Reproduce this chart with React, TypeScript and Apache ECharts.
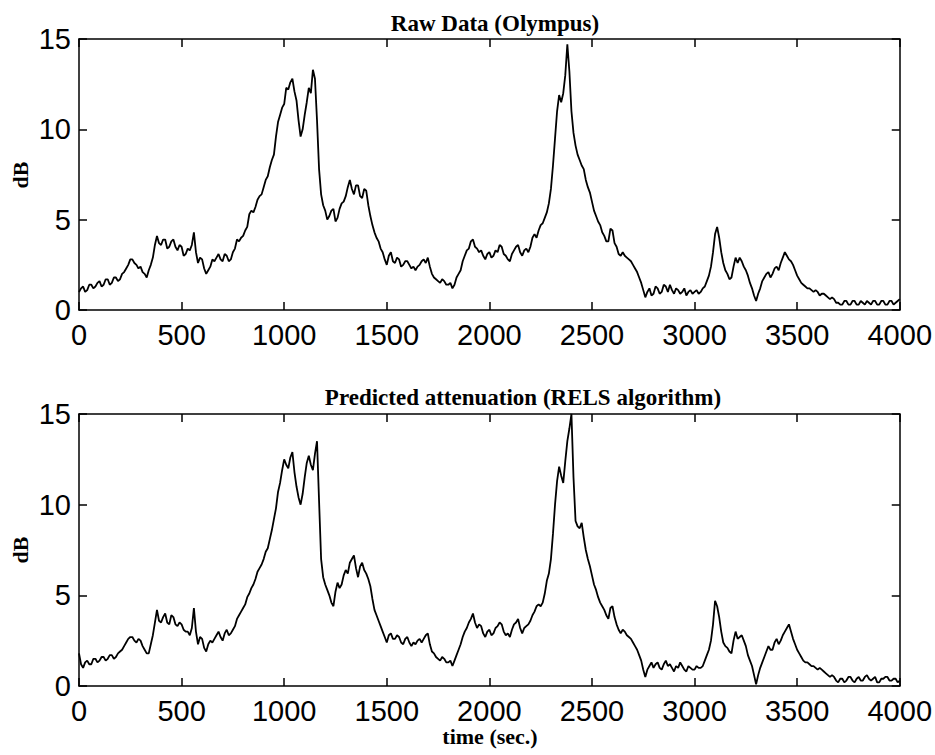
import React, { useEffect, useRef } from "react";
import * as echarts from "echarts";

const STEP_SEC = 10;
const X_TICKS = [0, 500, 1000, 1500, 2000, 2500, 3000, 3500, 4000];
const Y_TICKS = [0, 5, 10, 15];
const TITLE_TOP = "Raw Data (Olympus)";
const TITLE_BOTTOM = "Predicted attenuation (RELS algorithm)";
const Y_NAME = "dB";
const X_NAME = "time (sec.)";

// Raw data, one value every 10 s from 0 to 4000 s (each row = 200 s)
const RAW_DB = [
  1.0, 1.2, 1.3, 1.0, 1.1, 1.4, 1.4, 1.2, 1.3, 1.5, 1.6, 1.3, 1.4, 1.7, 1.7, 1.4, 1.5, 1.8, 1.8, 1.6,
  1.7, 2.0, 2.1, 2.3, 2.5, 2.8, 2.8, 2.6, 2.5, 2.3, 2.4, 2.1, 2.0, 1.8, 2.2, 2.5, 2.9, 3.6, 4.1, 3.7,
  3.6, 3.9, 3.9, 3.4, 3.5, 3.8, 3.9, 3.5, 3.3, 3.6, 3.5, 3.0, 3.1, 3.4, 3.3, 3.6, 4.3, 3.2, 2.6, 2.9,
  2.8, 2.3, 2.0, 2.2, 2.4, 2.8, 2.7, 2.9, 3.1, 2.8, 2.7, 3.1, 3.0, 2.7, 2.8, 3.2, 3.4, 3.9, 3.8, 4.0,
  4.1, 4.4, 4.6, 5.3, 5.5, 5.4, 5.7, 6.1, 6.3, 6.4, 6.8, 7.2, 7.4, 7.9, 8.3, 8.6, 9.6, 10.4, 10.8, 11.2,
  11.4, 12.3, 12.2, 12.6, 12.8, 12.1, 11.6, 10.5, 9.6, 10.0, 10.8, 11.5, 12.3, 12.0, 13.3, 12.8, 10.5, 7.8, 6.4, 5.8,
  5.5, 5.0, 5.2, 5.5, 5.6, 4.9, 5.1, 5.6, 5.9, 6.0, 6.3, 6.8, 7.2, 6.7, 6.4, 6.9, 6.9, 6.3, 6.2, 6.7,
  6.6, 5.8, 5.2, 4.7, 4.3, 4.0, 3.8, 3.4, 3.2, 2.8, 2.5, 3.0, 3.2, 2.7, 2.6, 2.9, 2.8, 2.4, 2.5, 2.7,
  2.7, 2.5, 2.3, 2.4, 2.2, 2.4, 2.5, 2.7, 2.8, 2.6, 2.9, 2.4, 2.0, 1.8, 1.7, 1.6, 1.5, 1.7, 1.6, 1.4,
  1.4, 1.5, 1.2, 1.4, 1.8, 2.0, 2.2, 2.7, 3.0, 3.3, 3.4, 3.8, 3.9, 3.5, 3.4, 3.2, 3.3, 3.0, 2.8, 3.1,
  3.2, 2.9, 3.0, 3.3, 3.2, 3.6, 3.5, 3.1, 3.0, 2.8, 2.7, 3.1, 3.3, 3.5, 3.6, 3.2, 3.0, 3.3, 3.4, 3.2,
  3.5, 4.0, 4.2, 4.0, 4.4, 4.7, 4.8, 5.1, 5.4, 5.9, 6.7, 8.0, 9.5, 11.0, 11.9, 11.5, 12.0, 13.0, 14.7, 13.2,
  11.0, 9.8, 9.1, 8.6, 8.3, 8.0, 7.8, 7.2, 6.8, 6.5, 6.0, 5.5, 5.2, 4.9, 4.7, 4.3, 4.1, 3.8, 3.8, 4.5,
  4.4, 3.7, 3.5, 3.1, 3.0, 3.2, 3.0, 2.9, 2.8, 2.7, 2.5, 2.3, 2.1, 1.8, 1.5, 1.1, 0.7, 1.0, 1.2, 0.8,
  0.9, 1.3, 1.2, 0.9, 1.0, 1.4, 1.3, 1.0, 1.4, 1.1, 0.9, 1.2, 1.1, 0.9, 1.0, 1.2, 0.8, 1.0, 1.1, 0.9,
  1.0, 1.1, 0.9, 1.0, 1.2, 1.3, 1.6, 1.9, 2.4, 3.2, 4.2, 4.6, 4.0, 3.2, 2.6, 2.2, 2.0, 1.7, 1.8, 2.4,
  2.9, 2.6, 2.9, 2.7, 2.4, 2.2, 1.9, 1.5, 1.2, 0.8, 0.5, 0.9, 1.2, 1.6, 1.8, 2.0, 2.1, 1.8, 2.0, 2.3,
  2.4, 2.2, 2.6, 2.9, 3.2, 3.0, 2.8, 2.7, 2.5, 2.2, 1.9, 1.7, 1.5, 1.4, 1.3, 1.2, 1.2, 1.1, 1.0, 1.1,
  1.0, 0.8, 0.9, 0.9, 0.8, 0.7, 0.6, 0.7, 0.6, 0.4, 0.4, 0.3, 0.3, 0.5, 0.5, 0.3, 0.3, 0.5, 0.5, 0.3,
  0.3, 0.5, 0.4, 0.3, 0.5, 0.4, 0.3, 0.5, 0.5, 0.3, 0.3, 0.5, 0.5, 0.3, 0.3, 0.5, 0.5, 0.3, 0.4, 0.5,
  0.6,
];

// Predicted attenuation (RELS), one value every 10 s from 0 to 4000 s (each row = 200 s)
const PRED_DB = [
  1.8, 1.2, 1.0, 1.3, 1.4, 1.2, 1.2, 1.5, 1.5, 1.3, 1.4, 1.6, 1.6, 1.4, 1.5, 1.7, 1.7, 1.5, 1.6, 1.8,
  1.9, 2.0, 2.2, 2.4, 2.6, 2.7, 2.7, 2.5, 2.4, 2.6, 2.5, 2.2, 2.0, 1.8, 1.8, 2.3, 2.8, 3.5, 4.2, 3.6,
  3.5, 3.8, 4.0, 3.5, 3.4, 3.9, 3.8, 3.4, 3.3, 3.5, 3.4, 3.1, 3.0, 3.0, 2.8, 3.2, 4.3, 3.0, 2.3, 2.7,
  2.6, 2.1, 1.9, 2.3, 2.5, 2.4, 2.6, 2.8, 3.0, 2.7, 2.5, 2.9, 3.1, 2.8, 2.9, 3.1, 3.3, 3.7, 3.9, 4.1,
  4.3, 4.5, 4.9, 5.1, 5.4, 5.6, 5.9, 6.3, 6.5, 6.7, 7.0, 7.4, 7.6, 8.1, 8.6, 9.2, 9.8, 10.7, 11.2, 11.9,
  12.5, 12.2, 12.0, 12.6, 12.9, 11.8, 11.0, 10.4, 10.0, 10.6, 11.5, 12.3, 12.7, 12.2, 11.9, 12.8, 13.5, 10.2, 7.0, 6.0,
  5.6, 5.3, 5.0, 4.6, 4.4, 5.2, 5.7, 5.4, 5.6, 6.1, 6.4, 6.2, 6.8, 7.0, 7.2, 6.5, 6.0, 6.6, 6.8, 6.4,
  6.2, 5.9, 5.5, 4.8, 4.2, 3.9, 3.6, 3.3, 3.0, 2.7, 2.4, 2.8, 2.9, 2.6, 2.6, 2.8, 2.7, 2.4, 2.3, 2.6,
  2.7, 2.4, 2.2, 2.4, 2.3, 2.5, 2.6, 2.4, 2.6, 2.8, 2.9, 2.3, 1.9, 1.8, 1.6, 1.5, 1.4, 1.6, 1.5, 1.3,
  1.3, 1.4, 1.1, 1.4, 1.7, 2.0, 2.3, 2.7, 3.0, 3.2, 3.5, 3.7, 4.0, 3.5, 3.2, 3.4, 3.3, 2.9, 2.7, 3.0,
  3.1, 2.8, 2.9, 3.2, 3.3, 3.5, 3.4, 3.0, 2.8, 2.9, 2.7, 3.1, 3.4, 3.5, 3.7, 3.2, 2.9, 3.2, 3.3, 3.4,
  3.6, 3.9, 4.1, 4.4, 4.5, 4.4, 4.6, 5.1, 5.8, 6.2, 7.0, 8.4, 10.0, 11.3, 12.1, 11.6, 11.2, 12.4, 13.5, 14.2,
  15.0, 11.5, 9.1, 8.8, 8.7, 9.0, 8.2, 7.5, 7.0, 6.6, 6.1, 5.6, 5.3, 4.9, 4.6, 4.4, 4.2, 3.9, 3.7, 4.3,
  4.4, 3.8, 3.4, 3.1, 2.9, 3.1, 3.0, 2.8, 2.7, 2.6, 2.4, 2.2, 2.0, 1.7, 1.4, 0.9, 0.5, 0.9, 1.1, 1.3,
  1.0, 1.2, 1.3, 1.0, 0.9, 1.2, 1.4, 1.1, 1.2, 1.0, 0.8, 1.1, 1.0, 1.3, 1.1, 0.9, 0.8, 1.1, 1.0, 0.9,
  0.9, 1.1, 1.0, 1.0, 1.1, 1.4, 1.7, 2.0, 2.5, 3.4, 4.7, 4.4, 3.8, 3.0, 2.4, 2.2, 2.1, 1.9, 1.8, 2.5,
  3.0, 2.6, 2.7, 2.8, 2.5, 2.2, 1.7, 1.4, 1.1, 0.6, 0.1, 0.6, 1.0, 1.3, 1.6, 1.9, 2.2, 2.0, 2.0, 2.4,
  2.6, 2.3, 2.5, 2.8, 3.0, 3.2, 3.4, 3.0, 2.6, 2.3, 2.0, 1.8, 1.6, 1.4, 1.3, 1.3, 1.2, 1.1, 1.1, 1.0,
  0.9, 1.0, 0.9, 0.8, 0.7, 0.6, 0.5, 0.6, 0.5, 0.3, 0.2, 0.4, 0.4, 0.2, 0.3, 0.5, 0.5, 0.3, 0.2, 0.4,
  0.5, 0.3, 0.3, 0.5, 0.6, 0.4, 0.3, 0.4, 0.5, 0.2, 0.2, 0.4, 0.4, 0.5, 0.5, 0.3, 0.3, 0.4, 0.4, 0.2,
  0.3,
];

const toPairs = (vals: number[]) => vals.map((v, i) => [i * STEP_SEC, v]);

export default function App() {
  const ref = useRef<HTMLDivElement>(null);
  useEffect(() => {
    document.body.style.margin = "0";
    if (!ref.current) return;
    const chart = echarts.init(ref.current, null, { renderer: "svg" });
    const xMin = X_TICKS[0];
    const xMax = X_TICKS[X_TICKS.length - 1];
    const xInt = X_TICKS[1] - X_TICKS[0];
    const yMin = Y_TICKS[0];
    const yMax = Y_TICKS[Y_TICKS.length - 1];
    const yInt = Y_TICKS[1] - Y_TICKS[0];
    const labelFont = { fontFamily: "Liberation Sans, Arial, sans-serif", fontSize: 29, color: "#000" };
    const grids = [
      { left: 79, width: 823, top: 39, height: 271 },
      { left: 79, width: 823, top: 414, height: 272 },
    ];
    const lineSt = { color: "#000", width: 1.5 };
    const xAxes: any[] = [];
    const yAxes: any[] = [];
    [0, 1].forEach((g) => {
      xAxes.push({
        type: "value", gridIndex: g, min: xMin, max: xMax, interval: xInt, position: "bottom",
        axisLine: { show: true, onZero: false, lineStyle: lineSt },
        axisTick: { show: true, inside: true, length: 8, lineStyle: lineSt },
        axisLabel: { ...labelFont, margin: 10, showMaxLabel: true, showMinLabel: true, formatter: (v: number) => String(v) },
        splitLine: { show: false },
      });
      xAxes.push({
        type: "value", gridIndex: g, min: xMin, max: xMax, interval: xInt, position: "top",
        axisLine: { show: true, onZero: false, lineStyle: lineSt },
        axisTick: { show: true, inside: true, length: 8, lineStyle: lineSt },
        axisLabel: { show: false },
        splitLine: { show: false },
      });
      yAxes.push({
        type: "value", gridIndex: g, min: yMin, max: yMax, interval: yInt, position: "left",
        axisLine: { show: true, onZero: false, lineStyle: lineSt },
        axisTick: { show: true, inside: true, length: 8, lineStyle: lineSt },
        axisLabel: { ...labelFont, margin: 8, showMaxLabel: true, showMinLabel: true, formatter: (v: number) => String(v) },
        splitLine: { show: false },
      });
      yAxes.push({
        type: "value", gridIndex: g, min: yMin, max: yMax, interval: yInt, position: "right",
        axisLine: { show: true, onZero: false, lineStyle: lineSt },
        axisTick: { show: true, inside: true, length: 8, lineStyle: lineSt },
        axisLabel: { show: false },
        splitLine: { show: false },
      });
    });
    const serifBold = { fontFamily: "Liberation Serif, Times New Roman, serif", fontWeight: "bold", fill: "#000" };
    chart.setOption({
      animation: false,
      backgroundColor: "#fff",
      grid: grids,
      xAxis: xAxes,
      yAxis: yAxes,
      series: [
        {
          type: "line", xAxisIndex: 0, yAxisIndex: 0, data: toPairs(RAW_DB), showSymbol: false,
          lineStyle: { color: "#000", width: 1.8 }, silent: true,
        },
        {
          type: "line", xAxisIndex: 2, yAxisIndex: 2, data: toPairs(PRED_DB), showSymbol: false,
          lineStyle: { color: "#000", width: 1.8 }, silent: true,
        },
      ],
      graphic: [
        { type: "text", x: 495, y: 23, style: { ...serifBold, text: TITLE_TOP, fontSize: 23, align: "center", verticalAlign: "middle" } },
        { type: "text", x: 523, y: 397, style: { ...serifBold, text: TITLE_BOTTOM, fontSize: 23, align: "center", verticalAlign: "middle" } },
        { type: "text", x: 20, y: 175, rotation: Math.PI / 2, style: { ...serifBold, text: Y_NAME, fontSize: 22, align: "center", verticalAlign: "middle" } },
        { type: "text", x: 20, y: 550, rotation: Math.PI / 2, style: { ...serifBold, text: Y_NAME, fontSize: 22, align: "center", verticalAlign: "middle" } },
        { type: "text", x: 490, y: 736, style: { ...serifBold, text: X_NAME, fontSize: 22, align: "center", verticalAlign: "middle" } },
      ],
    });
    return () => chart.dispose();
  }, []);
  return <div ref={ref} style={{ width: 935, height: 755 }} />;
}
